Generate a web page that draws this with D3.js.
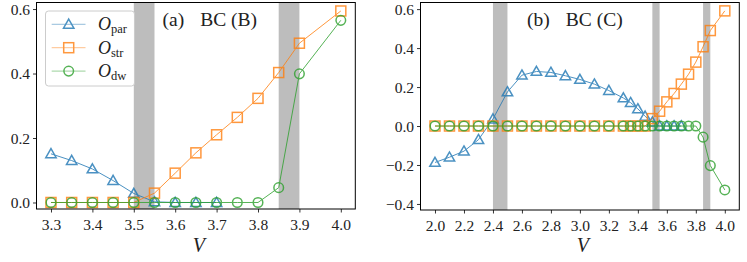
<!DOCTYPE html>
<html>
<head>
<meta charset="utf-8">
<script src="https://cdn.jsdelivr.net/npm/d3@7"></script>
<style>
body { margin: 0; background: #fff; }
svg text { font-family: "Liberation Serif", "DejaVu Serif", serif; fill: #222; }
</style>
</head>
<body>
<div id="chart"></div>
<script>

// panel (a): BC (B)
var vA_par = [3.3, 3.35, 3.4, 3.45, 3.5, 3.55, 3.6, 3.65, 3.7];
var oA_par = [0.151, 0.130, 0.104, 0.068, 0.028, 0.002, 0, 0, 0];
var vA_str = [3.3, 3.35, 3.4, 3.45, 3.5, 3.55, 3.6, 3.65, 3.7, 3.75, 3.8, 3.85, 3.9, 4.0];
var oA_str = [0, 0, 0, 0, 0, 0.029, 0.091, 0.154, 0.21, 0.264, 0.323, 0.403, 0.494, 0.594];
var vA_dw = [3.3, 3.35, 3.4, 3.45, 3.5, 3.55, 3.6, 3.65, 3.7, 3.75, 3.8, 3.85, 3.9, 4.0];
var oA_dw = [0, 0, 0, 0, 0, 0, 0, 0, 0, 0, 0, 0.046, 0.399, 0.565];
var bandsA = [[3.5, 3.55], [3.85, 3.9]];
var xTicksA = [3.3, 3.4, 3.5, 3.6, 3.7, 3.8, 3.9, 4.0];
var yTicksA = [0, 0.2, 0.4, 0.6];

// panel (b): BC (C)
var vB_par = [2.0, 2.1, 2.2, 2.3, 2.4, 2.5, 2.6, 2.7, 2.8, 2.9, 3.0, 3.1, 3.2, 3.3, 3.35, 3.4, 3.45, 3.5, 3.55, 3.6, 3.65, 3.7];
var oB_par = [-0.187, -0.16, -0.129, -0.07, 0.036, 0.175, 0.261, 0.28, 0.275, 0.258, 0.239, 0.215, 0.182, 0.144, 0.12, 0.088, 0.05, 0.02, 0, 0, 0, 0];
var vB_str = [2.0, 2.1, 2.2, 2.3, 2.4, 2.5, 2.6, 2.7, 2.8, 2.9, 3.0, 3.1, 3.2, 3.3, 3.35, 3.4, 3.45, 3.5, 3.55, 3.6, 3.65, 3.7, 3.75, 3.8, 3.85, 3.9, 4.0];
var oB_str = [0, 0, 0, 0, 0, 0, 0, 0, 0, 0, 0, 0, 0, 0, 0, 0, 0, 0.038, 0.076, 0.124, 0.167, 0.215, 0.266, 0.328, 0.407, 0.49, 0.591];
var vB_dw = [2.0, 2.1, 2.2, 2.3, 2.4, 2.5, 2.6, 2.7, 2.8, 2.9, 3.0, 3.1, 3.2, 3.3, 3.35, 3.4, 3.45, 3.5, 3.55, 3.6, 3.65, 3.7, 3.75, 3.8, 3.85, 3.9, 4.0];
var oB_dw = [0, 0, 0, 0, 0, 0, 0, 0, 0, 0, 0, 0, 0, 0, 0, 0, 0, 0, 0, 0, 0, 0, 0, 0, -0.057, -0.203, -0.328];
var bandsB = [[2.4, 2.5], [3.5, 3.55], [3.85, 3.9]];
var xTicksB = [2.0, 2.2, 2.4, 2.6, 2.8, 3.0, 3.2, 3.4, 3.6, 3.8, 4.0];
var yTicksB = [-0.4, -0.2, 0, 0.2, 0.4, 0.6];

var colors = {par: "#1f77b4", str: "#ff7f0e", dw: "#2ca02c"};
var W = 747, H = 262;
var serif = "'Liberation Serif', 'DejaVu Serif', serif";

var svg = d3.select("#chart").append("svg")
	.attr("width", W)
	.attr("height", H);

function fmt(d) {
	var s = d3.format(".1f")(d);
	return s.replace("-", "\u2212");
}

function marker(g, kind, x, y, color) {
	if (kind == "par") {
		var s = 5.2;
		g.append("path")
			.attr("d", "M" + x + "," + (y - s) + "L" + (x + s) + "," + (y + s * 0.75) + "L" + (x - s) + "," + (y + s * 0.75) + "Z")
			.attr("fill", "none").attr("stroke", color).attr("stroke-width", 1.5);
	} else if (kind == "str") {
		g.append("rect")
			.attr("x", x - 5).attr("y", y - 5).attr("width", 10).attr("height", 10)
			.attr("fill", "none").attr("stroke", color).attr("stroke-width", 1.5);
	} else {
		g.append("circle")
			.attr("cx", x).attr("cy", y).attr("r", 4.8)
			.attr("fill", "none").attr("stroke", color).attr("stroke-width", 1.5);
	}
}

function panel(opt) {
	var x = d3.scaleLinear().domain(opt.xdom).range([opt.left, opt.right]);
	var y = d3.scaleLinear().domain(opt.ydom).range([opt.bottom, opt.top]);
	var g = svg.append("g");

	var clipId = "clip" + opt.name;
	svg.append("clipPath").attr("id", clipId).append("rect")
		.attr("x", opt.left).attr("y", opt.top)
		.attr("width", opt.right - opt.left).attr("height", opt.bottom - opt.top);

	// shaded regions
	g.selectAll(".band")
		.data(opt.bands)
		.enter().append("rect")
		.attr("x", function(d) { return x(d[0]); })
		.attr("y", opt.top)
		.attr("width", function(d) { return x(d[1]) - x(d[0]); })
		.attr("height", opt.bottom - opt.top)
		.style("fill", "#bdbdbd");

	var line = d3.line()
		.x(function(d) { return x(d[0]); })
		.y(function(d) { return y(d[1]); });

	var plot = g.append("g").attr("clip-path", "url(#" + clipId + ")");
	opt.series.forEach(function(s) {
		var pts = d3.zip(s.v, s.o);
		var sg = plot.append("g").attr("opacity", 0.8);
		sg.append("path")
			.datum(pts)
			.attr("d", line)
			.attr("fill", "none")
			.attr("stroke", colors[s.kind])
			.attr("stroke-width", 1);
		pts.forEach(function(p) {
			marker(sg, s.kind, x(p[0]), y(p[1]), colors[s.kind]);
		});
	});

	// axes
	var xa = g.append("g")
		.attr("transform", "translate(0," + opt.bottom + ")")
		.call(d3.axisBottom(x).tickValues(opt.xticks).tickSize(3.5).tickPadding(4).tickFormat(fmt));
	var ya = g.append("g")
		.attr("transform", "translate(" + opt.left + ",0)")
		.call(d3.axisLeft(y).tickValues(opt.yticks).tickSize(3.5).tickPadding(3).tickFormat(fmt));
	[xa, ya].forEach(function(a) {
		a.attr("font-family", serif).attr("font-size", null);
		a.select(".domain").remove();
		a.selectAll("line").attr("stroke", "#000").attr("stroke-width", 0.8);
		a.selectAll("text").style("font-family", serif).style("font-size", "15.5px").attr("fill", "#222");
	});
	xa.selectAll("text").attr("dy", "0.9em");
	ya.selectAll("text").attr("dy", "0.34em");

	g.append("rect")
		.attr("x", opt.left).attr("y", opt.top)
		.attr("width", opt.right - opt.left).attr("height", opt.bottom - opt.top)
		.attr("fill", "none").attr("stroke", "#000").attr("stroke-width", 1);

	g.append("text")
		.attr("x", (opt.left + opt.right) / 2 + 3)
		.attr("y", 252)
		.attr("text-anchor", "middle")
		.style("font-size", "20px")
		.style("font-style", "italic")
		.style("font-weight", "normal")
		.text("V");

	var t = g.append("text")
		.attr("x", opt.titleX)
		.attr("y", 26)
		.style("font-size", "19.5px");
	t.append("tspan").text(opt.tag);
	t.append("tspan").attr("dx", 16).text(opt.title);
}

panel({
	name: "a", left: 36.5, right: 355.3, top: 2.5, bottom: 209,
	xdom: [3.265, 4.035], ydom: [-0.0202, 0.6203],
	bands: bandsA, xticks: xTicksA, yticks: yTicksA,
	titleX: 162.5, tag: "(a)", title: "BC (B)",
	series: [
		{kind: "par", v: vA_par, o: oA_par},
		{kind: "str", v: vA_str, o: oA_str},
		{kind: "dw", v: vA_dw, o: oA_dw}
	]
});

panel({
	name: "b", left: 420.5, right: 739.3, top: 2.5, bottom: 210,
	xdom: [1.9, 4.1], ydom: [-0.431, 0.634],
	bands: bandsB, xticks: xTicksB, yticks: yTicksB,
	titleX: 527, tag: "(b)", title: "BC (C)",
	series: [
		{kind: "par", v: vB_par, o: oB_par},
		{kind: "str", v: vB_str, o: oB_str},
		{kind: "dw", v: vB_dw, o: oB_dw}
	]
});

// legend
var legItems = [
	{kind: "par", sub: "par"},
	{kind: "str", sub: "str"},
	{kind: "dw", sub: "dw"}
];
var leg = svg.append("g");
leg.append("rect")
	.attr("x", 45.5).attr("y", 11).attr("width", 89).attr("height", 75)
	.attr("rx", 3)
	.attr("fill", "#fff").attr("fill-opacity", 0.8)
	.attr("stroke", "#ccc").attr("stroke-width", 1);

var rows = leg.selectAll(".row")
	.data(legItems)
	.enter().append("g")
	.attr("class", "row")
	.attr("transform", function(d, i) { return "translate(0," + (24.3 + i * 23.4) + ")"; });

rows.each(function(d) {
	var r = d3.select(this);
	var mg = r.append("g").attr("opacity", 0.8);
	mg.append("line")
		.attr("x1", 51.7).attr("x2", 85.5).attr("y1", 0).attr("y2", 0)
		.attr("stroke", colors[d.kind]).attr("stroke-width", 1).attr("stroke-opacity", 0.6);
	marker(mg, d.kind, 68.7, 0, colors[d.kind]);
	var t = r.append("text").attr("x", 98).attr("y", 6).style("font-size", "18px");
	t.append("tspan").style("font-style", "italic").text("O");
	t.append("tspan").attr("dy", 3).style("font-size", "12.5px").text(d.sub);
});

</script>
</body>
</html>
